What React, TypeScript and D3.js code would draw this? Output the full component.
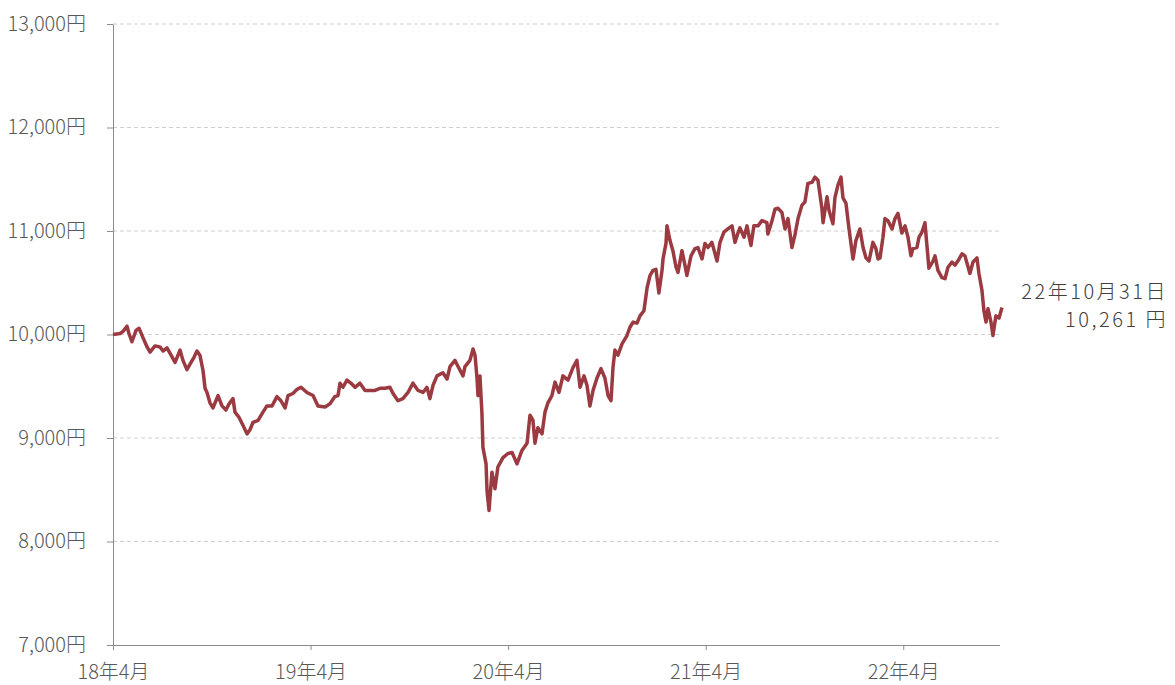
import React, { useEffect, useRef } from 'react'
import * as d3 from 'd3'

// months since 18年4月
const months: number[] = [
  0.00, 0.43, 0.61, 0.85, 0.97, 1.15, 1.40, 1.58, 1.82, 2.07, 2.25, 2.55, 2.85, 3.04, 3.28, 3.46, 3.77, 4.07, 4.25, 4.49,
  4.74, 4.92, 5.10, 5.28, 5.47, 5.59, 5.71, 5.89, 6.07, 6.38, 6.62, 6.86, 7.05, 7.29, 7.41, 7.65, 7.90, 8.14, 8.32, 8.50,
  8.81, 9.11, 9.35, 9.66, 9.96, 10.20, 10.45, 10.63, 10.93, 11.18, 11.42, 11.78, 12.15, 12.45, 12.88, 13.18, 13.48, 13.67, 13.79, 13.97,
  14.21, 14.52, 14.70, 15.00, 15.31, 15.61, 15.91, 16.22, 16.52, 16.82, 17.01, 17.31, 17.61, 17.92, 18.22, 18.53, 18.83, 19.07, 19.25, 19.44,
  19.68, 20.04, 20.29, 20.47, 20.77, 20.96, 21.26, 21.38, 21.68, 21.87, 21.99, 22.11, 22.17, 22.29, 22.41, 22.47, 22.66, 22.72, 22.84, 23.02,
  23.20, 23.38, 23.69, 23.99, 24.24, 24.54, 24.84, 25.15, 25.33, 25.51, 25.63, 25.81, 26.06, 26.24, 26.42, 26.66, 26.85, 27.09, 27.33, 27.64,
  27.94, 28.18, 28.37, 28.61, 28.79, 28.97, 29.16, 29.40, 29.64, 29.88, 30.07, 30.25, 30.37, 30.49, 30.67, 30.92, 31.22, 31.40, 31.59, 31.83,
  32.01, 32.25, 32.44, 32.62, 32.80, 32.98, 33.16, 33.35, 33.41, 33.59, 33.65, 33.83, 34.01, 34.20, 34.32, 34.56, 34.74, 34.86, 35.11, 35.35,
  35.53, 35.78, 35.96, 36.14, 36.38, 36.69, 36.87, 37.11, 37.35, 37.60, 37.78, 37.96, 38.08, 38.33, 38.51, 38.75, 38.93, 39.18, 39.42, 39.72,
  39.78, 40.03, 40.21, 40.39, 40.63, 40.82, 41.00, 41.24, 41.42, 41.61, 41.85, 42.03, 42.21, 42.46, 42.64, 42.82, 43.06, 43.13, 43.37, 43.49,
  43.73, 43.85, 44.03, 44.22, 44.34, 44.52, 44.70, 44.95, 45.13, 45.37, 45.56, 45.74, 45.92, 46.16, 46.34, 46.47, 46.59, 46.77, 46.89, 47.07,
  47.32, 47.50, 47.68, 47.92, 48.11, 48.29, 48.47, 48.59, 48.83, 48.96, 49.14, 49.32, 49.44, 49.56, 49.81, 49.93, 50.11, 50.35, 50.54, 50.72,
  50.96, 51.14, 51.32, 51.57, 51.75, 51.87, 52.05, 52.24, 52.48, 52.60, 52.78, 52.90, 53.03, 53.15, 53.33, 53.45, 53.63, 53.82, 54.00,
]

// 基準価額 (円)
const prices: number[] = [
  10000, 10010, 10030, 10080, 10010, 9930, 10040, 10060, 9970, 9880, 9830, 9890, 9880, 9840, 9870, 9820, 9730, 9850, 9750, 9660,
  9730, 9780, 9840, 9800, 9650, 9480, 9440, 9340, 9290, 9410, 9310, 9270, 9330, 9380, 9250, 9200, 9120, 9040, 9080, 9150,
  9170, 9250, 9310, 9310, 9400, 9360, 9290, 9410, 9430, 9470, 9490, 9440, 9410, 9310, 9300, 9330, 9400, 9410, 9530, 9490,
  9560, 9520, 9490, 9530, 9460, 9460, 9460, 9480, 9480, 9490, 9430, 9360, 9380, 9440, 9530, 9460, 9440, 9490, 9380, 9510,
  9600, 9630, 9570, 9690, 9750, 9690, 9600, 9690, 9750, 9860, 9800, 9580, 9410, 9600, 9240, 8910, 8750, 8490, 8300, 8670,
  8510, 8720, 8810, 8850, 8860, 8750, 8880, 8950, 9220, 9170, 8950, 9100, 9040, 9250, 9340, 9410, 9540, 9440, 9600, 9560,
  9680, 9750, 9490, 9600, 9510, 9310, 9460, 9580, 9670, 9580, 9410, 9360, 9680, 9850, 9800, 9910, 9990, 10070, 10120, 10110,
  10180, 10230, 10450, 10570, 10620, 10630, 10400, 10620, 10730, 10880, 11050, 10910, 10810, 10650, 10600, 10810, 10670, 10570, 10760, 10830,
  10840, 10730, 10880, 10840, 10890, 10710, 10890, 10990, 11020, 11050, 10890, 10980, 11030, 10940, 11050, 10860, 11050, 11050, 11100, 11080,
  10970, 11100, 11210, 11220, 11180, 11020, 11120, 10840, 10960, 11120, 11250, 11280, 11460, 11470, 11520, 11490, 11220, 11080, 11330, 11200,
  11070, 11320, 11440, 11520, 11320, 11270, 11030, 10730, 10910, 11020, 10840, 10740, 10710, 10890, 10830, 10730, 10740, 10940, 11120, 11100,
  11020, 11120, 11170, 10980, 11050, 10940, 10760, 10830, 10840, 10940, 10990, 11080, 10860, 10640, 10710, 10760, 10620, 10550, 10540, 10650,
  10700, 10670, 10710, 10780, 10760, 10690, 10590, 10700, 10740, 10590, 10430, 10230, 10120, 10250, 10120, 9990, 10180, 10160, 10261,
]

const xTickMonths: number[] = [0, 12, 24, 36, 48]
const xTickLabels: string[] = ['18年4月', '19年4月', '20年4月', '21年4月', '22年4月']
const yTicks: number[] = [7000, 8000, 9000, 10000, 11000, 12000, 13000]
const lastDate = '22年10月31日'
const lastValue = '10,261 円'

const W = 1175
const H = 685
const margin = { top: 24, right: 173, bottom: 40, left: 113 }
const FONT = '"Noto Sans CJK JP", "Noto Sans", sans-serif'
const TEXT = '#595959'
const AXIS = '#8c8c8c'

export default function App() {
  const ref = useRef<SVGSVGElement>(null)

  useEffect(() => {
    const svg = d3.select(ref.current)
    svg.selectAll('*').remove()

    const x = d3.scaleLinear().domain([0, 54]).range([margin.left, 1002])
    const y = d3.scaleLinear().domain([7000, 13000]).range([H - margin.bottom, margin.top])

    // grid
    svg.append('g')
      .selectAll('line')
      .data(yTicks.filter(d => d > 7000))
      .join('line')
        .attr('x1', margin.left)
        .attr('x2', 1000)
        .attr('y1', d => y(d))
        .attr('y2', d => y(d))
        .attr('stroke', '#cfcfcf')
        .attr('stroke-width', 1)
        .attr('stroke-dasharray', '4,3')

    const yAxis = d3.axisLeft(y)
      .tickValues(yTicks)
      .tickSize(6)
      .tickSizeOuter(0)
      .tickPadding(21)
      .tickFormat((d: any) => d3.format(',')(d) + '円')

    const yg = svg.append('g')
      .attr('transform', `translate(${margin.left},0)`)
      .call(yAxis)
    yg.select('.domain').attr('stroke', AXIS)
    yg.selectAll('line').attr('stroke', AXIS)
    yg.selectAll('text')
      .attr('fill', TEXT)
      .attr('font-size', 20)
      .attr('font-weight', 300)
      .attr('font-family', FONT)

    const xAxis = d3.axisBottom(x)
      .tickValues(xTickMonths)
      .tickSize(5)
      .tickSizeOuter(0)
      .tickFormat((d: any, i: number) => xTickLabels[i])

    const xg = svg.append('g')
      .attr('transform', `translate(0,${H - margin.bottom})`)
      .call(xAxis)
    xg.select('.domain').attr('stroke', AXIS).attr('d', `M${margin.left},0.5H1000`)
    xg.selectAll('line').attr('stroke', AXIS)
    xg.selectAll('text')
      .attr('fill', TEXT)
      .attr('font-size', 20)
      .attr('font-weight', 300)
      .attr('font-family', FONT)
      .attr('dy', null)
      .attr('y', 34)

    const data: [number, number][] = months.map((m, i) => [m, prices[i]])
    const line = d3.line<[number, number]>()
      .x(d => x(d[0]))
      .y(d => y(d[1]))

    svg.append('path')
      .datum(data)
      .attr('d', line)
      .attr('fill', 'none')
      .attr('stroke', '#9b3a40')
      .attr('stroke-width', 3.5)
      .attr('stroke-linejoin', 'round')

    const ann = svg.append('g')
      .attr('font-family', FONT)
      .attr('font-size', 20)
      .attr('font-weight', 300)
      .attr('letter-spacing', 2.5)
      .attr('fill', '#404040')
      .attr('text-anchor', 'end')
    ann.append('text').attr('x', 1168).attr('y', 299).text(lastDate)
    ann.append('text').attr('x', 1168).attr('y', 327).text(lastValue)
  }, [])

  return (
    <svg
      ref={ref}
      width={W}
      height={H}
      style={{ position: 'absolute', left: 0, top: 0, background: '#fff' }}
    />
  )
}
